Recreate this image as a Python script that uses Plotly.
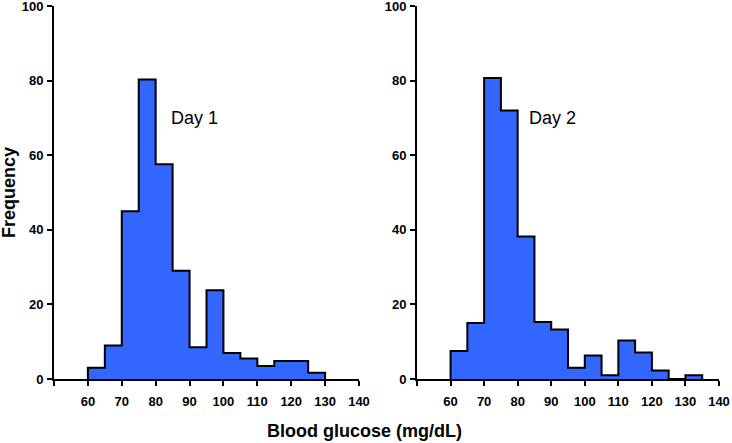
import plotly.graph_objects as go

# -----------------------------
# Data
# -----------------------------

bin_edges_day1 = [60, 65, 70, 75, 80, 85, 90, 95, 100, 105, 110, 115, 120, 125, 130]
freq_day1 = [3, 9, 45, 80.3, 57.6, 29, 8.5, 23.8, 7, 5.5, 3.5, 4.8, 4.8, 1.7]

bin_edges_day2 = [60, 65, 70, 75, 80, 85, 90, 95, 100, 105, 110, 115, 120, 125, 130, 135]
freq_day2 = [7.5, 15, 80.7, 72, 38.2, 15.3, 13.3, 3, 6.3, 1, 10.3, 7.1, 2.3, 0, 1]

panel_labels = ["Day 1", "Day 2"]
xtick_vals = [50, 60, 70, 80, 90, 100, 110, 120, 130, 140]
xtick_text = ["", "60", "70", "80", "90", "100", "110", "120", "130", "140"]
ytick_vals = [0, 20, 40, 60, 80, 100]

FILL = "#3366ff"
FONT = "Liberation Sans"


def step_outline(edges, freqs):
    # histogram outline: start at baseline, step over each bin, back to baseline
    xs = [edges[0]] + list(edges[:-1]) + [edges[-1], edges[-1]]
    ys = [0] + list(freqs) + [freqs[-1], 0]
    return xs, ys


fig = go.Figure()

for i, (edges, freqs) in enumerate([(bin_edges_day1, freq_day1), (bin_edges_day2, freq_day2)]):
    xs, ys = step_outline(edges, freqs)
    fig.add_trace(go.Scatter(
        x=xs, y=ys,
        mode="lines",
        line=dict(color="black", width=2, shape="hv"),
        fill="tozeroy",
        fillcolor=FILL,
        xaxis="x" if i == 0 else "x2",
        yaxis="y" if i == 0 else "y2",
        showlegend=False,
        hoverinfo="skip",
        cliponaxis=False,
    ))

axis_common = dict(
    showline=True, linecolor="black", linewidth=2,
    ticks="outside", ticklen=5, tickwidth=2, tickcolor="black",
    showgrid=False, zeroline=False, automargin=False,
    ticklabeloverflow="allow",
    tickfont=dict(family=FONT, size=13, color="black", weight="bold"),
)

fig.update_layout(
    width=732, height=443,
    margin=dict(l=0, r=0, t=0, b=0),
    paper_bgcolor="white", plot_bgcolor="white",
    xaxis=dict(domain=[54 / 732, 359 / 732], range=[50, 140], anchor="y",
               tickvals=xtick_vals, ticktext=xtick_text, ticklabelstandoff=4, **axis_common),
    xaxis2=dict(domain=[417 / 732, 719 / 732], range=[50, 140], anchor="y2",
                tickvals=xtick_vals, ticktext=xtick_text, ticklabelstandoff=4, **axis_common),
    yaxis=dict(domain=[64 / 443, 437 / 443], range=[0, 100], anchor="x",
               tickvals=ytick_vals, ticklabelstandoff=1, **axis_common),
    yaxis2=dict(domain=[64 / 443, 437 / 443], range=[0, 100], anchor="x2",
                tickvals=ytick_vals, ticklabelstandoff=1, **axis_common),
)

# panel labels
fig.add_annotation(x=91.5, y=70, xref="x", yref="y", text=panel_labels[0], showarrow=False,
                   xanchor="center", yanchor="middle",
                   font=dict(family=FONT, size=18, color="black"))
fig.add_annotation(x=90.5, y=70, xref="x2", yref="y2", text=panel_labels[1], showarrow=False,
                   xanchor="center", yanchor="middle",
                   font=dict(family=FONT, size=18, color="black"))

# axis titles
fig.add_annotation(x=364 / 732, y=(443 - 431) / 443, xref="paper", yref="paper",
                   xanchor="center", yanchor="middle",
                   text="Blood glucose (mg/dL)", showarrow=False,
                   font=dict(family=FONT, size=18, color="black", weight="bold"))
fig.add_annotation(x=9 / 732, y=(443 - 193) / 443, xref="paper", yref="paper",
                   xanchor="center", yanchor="middle",
                   text="Frequency", textangle=-90, showarrow=False,
                   font=dict(family=FONT, size=18, color="black", weight="bold"))

# page body has a default 8px margin; drop it so the figure fills the window
fig.write_html("out.html", config={"displayModeBar": False},
               post_script="document.body.style.margin = '0';")
